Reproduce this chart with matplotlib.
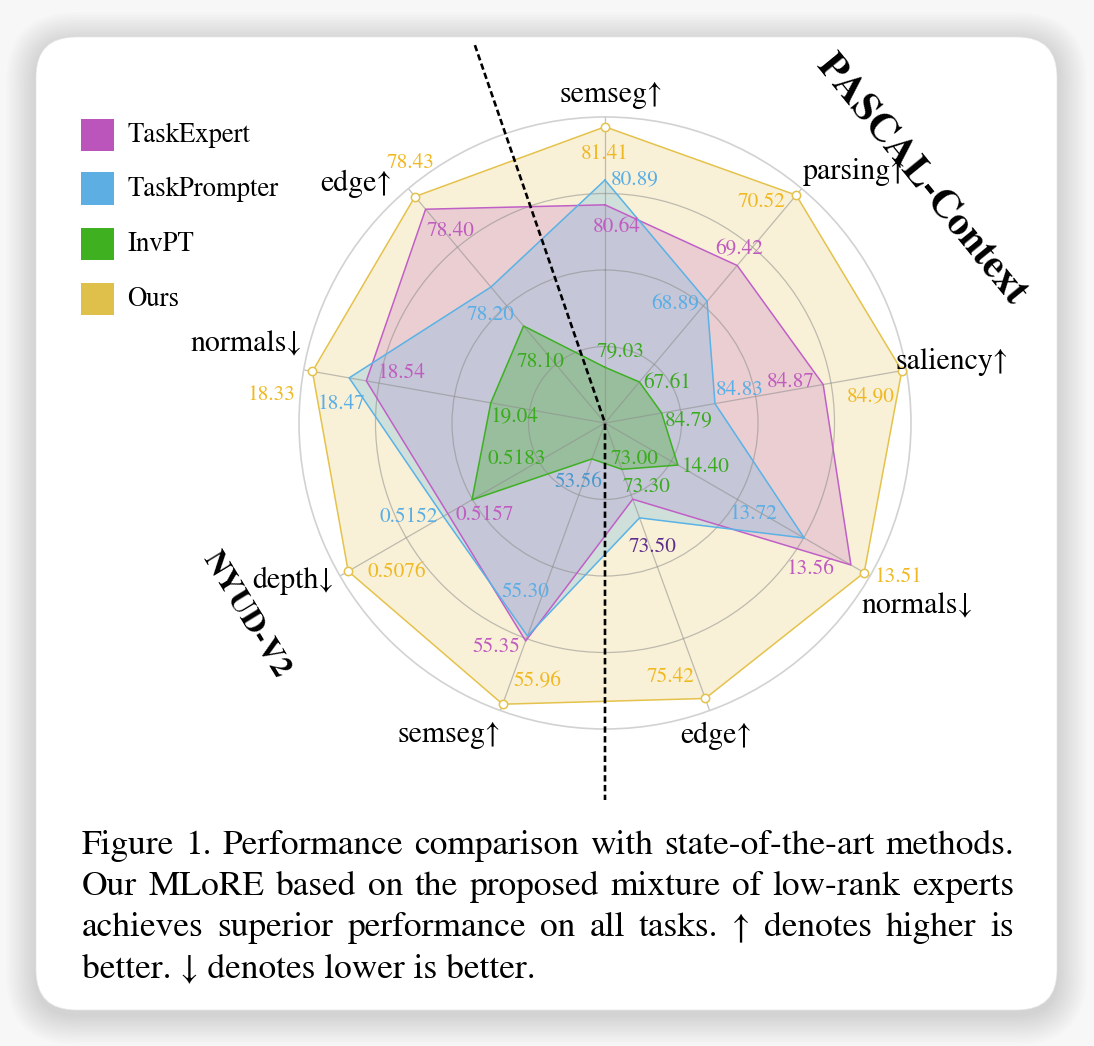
import numpy as np
import matplotlib
matplotlib.use('Agg')
import matplotlib.pyplot as plt
from matplotlib.patches import FancyBboxPatch, Rectangle

W, H = 1094, 1046
SERIF = ['STIXGeneral', 'Liberation Serif', 'DejaVu Serif']

# ---------------- data ----------------
tasks = ['semseg↑', 'parsing↑', 'saliency↑', 'normals↓', 'edge↑',
         'semseg↑', 'depth↓', 'normals↓', 'edge↑']
methods = ['TaskExpert', 'TaskPrompter', 'InvPT', 'Ours']

taskexpert_vals = ['80.64', '69.42', '84.87', '13.56', '73.50', '55.35', '0.5157', '18.54', '78.40']
taskprompter_vals = ['80.89', '68.89', '84.83', '13.72', '73.30', '55.30', '0.5152', '18.47', '78.20']
invpt_vals = ['79.03', '67.61', '84.79', '14.40', '73.00', '53.56', '0.5183', '19.04', '78.10']
ours_vals = ['81.41', '70.52', '84.90', '13.51', '75.42', '55.96', '0.5076', '18.33', '78.43']

# radial position of each vertex (fraction of outer ring)
taskexpert_r = [0.713, 0.672, 0.724, 0.928, 0.265, 0.758, 0.593, 0.792, 0.912]
taskprompter_r = [0.794, 0.519, 0.365, 0.752, 0.330, 0.741, 0.610, 0.849, 0.580]
invpt_r = [0.182, 0.175, 0.188, 0.275, 0.161, 0.125, 0.502, 0.379, 0.414]
ours_r = [0.968, 0.972, 0.985, 0.978, 0.958, 0.978, 0.969, 0.971, 0.966]

# ---------------- styles / layout ----------------
line_cols = {'TaskExpert': '#c060c6', 'TaskPrompter': '#5ab2e6',
             'InvPT': '#3db023', 'Ours': '#e4c24c'}
fill_alpha = {'TaskExpert': 0.24, 'TaskPrompter': 0.26, 'InvPT': 0.32, 'Ours': 0.22}
legend_cols = ['#bb55bb', '#5caee3', '#3fb01f', '#dfc04a']

GOLD_T, MAG_T, BLUE_T, GREEN_T, PURP_T, SBLUE_T = '#f0b822', '#c05cc0', '#5aaee6', '#3aab1f', '#5e2d8c', '#4a98cc'

# value label layout: (x px, y px, colour) per task, per series order Ours, TE, TP, InvPT
label_layout = [
    [(605, 154, GOLD_T), (617, 227, MAG_T), (635, 180, BLUE_T), (621, 352, GREEN_T)],
    [(762, 202, GOLD_T), (739, 250, MAG_T), (675, 305, BLUE_T), (667, 383, GREEN_T)],
    [(871, 397, GOLD_T), (791, 382, MAG_T), (740, 390, BLUE_T), (689, 421, GREEN_T)],
    [(899, 577, GOLD_T), (811, 569, MAG_T), (754, 514, BLUE_T), (706, 467, GREEN_T)],
    [(671, 677, GOLD_T), (653, 547, PURP_T), (647, 487, GREEN_T), (635, 459, GREEN_T)],
    [(537, 682, GOLD_T), (496, 647, MAG_T), (525, 592, BLUE_T), (578, 482, SBLUE_T)],
    [(397, 572, GOLD_T), (485, 515, MAG_T), (409, 517, BLUE_T), (517, 459, GREEN_T)],
    [(272, 395, GOLD_T), (402, 373, MAG_T), (342, 404, BLUE_T), (515, 417, GREEN_T)],
    [(411, 163, GOLD_T), (451, 231, MAG_T), (491, 315, BLUE_T), (541, 362, GREEN_T)],
]
task_label_pos = [(611, 95), (855, 172), (952, 362), (917, 607), (716, 736),
                  (449, 735), (293, 581), (246, 345), (356, 184)]

CX, CY, R = 605, 423, 306

# ---------------- figure ----------------
fig = plt.figure(figsize=(W / 100, H / 100), dpi=100, facecolor='#f7f7f7')
bg = fig.add_axes([0, 0, 1, 1])
bg.set_xlim(0, W)
bg.set_ylim(H, 0)
bg.axis('off')

# card shadow + card
for i in range(12):
    p = 2 + i * 2.5
    sh = FancyBboxPatch((36 - p, 37 - p + 5), 1021 + 2 * p, 973 + 2 * p,
                        boxstyle='round,pad=0,rounding_size=%f' % (40 + p),
                        facecolor='black', edgecolor='none', alpha=0.011, zorder=0)
    bg.add_patch(sh)
card = FancyBboxPatch((36, 37), 1021, 973, boxstyle='round,pad=0,rounding_size=40',
                      facecolor='white', edgecolor='#e6e6e6', lw=0.5, zorder=1)
bg.add_patch(card)

# legend
leg_y = [134.5, 188, 243.5, 298.5]
for name, col, y in zip(methods, legend_cols, leg_y):
    bg.add_patch(Rectangle((81, y - 16), 32.5, 32.5, facecolor=col, edgecolor='none', zorder=2))
    bg.text(127, y + 1, name, fontsize=19.3, family=SERIF, va='center', ha='left', zorder=3)

# polar axes
ax = fig.add_axes([(CX - R) / W, 1 - (CY + R) / H, 2 * R / W, 2 * R / H], projection='polar')
ax.set_facecolor('none')
ax.set_theta_offset(np.pi / 2)
ax.set_theta_direction(-1)
n = len(tasks)
theta = np.deg2rad(np.arange(n) * 360.0 / n)
ax.set_xticks(theta)
ax.set_xticklabels([])
ax.set_yticks([0.25, 0.5, 0.75])
ax.set_yticklabels([])
ax.set_ylim(0, 1)
ax.tick_params(length=0)
ax.xaxis.grid(True, color='#8c8c8c', lw=0.9, alpha=0.55)
ax.yaxis.grid(True, color='#8c8c8c', lw=0.9, alpha=0.55)
ax.spines['polar'].set_color('#d2d2d2')
ax.spines['polar'].set_linewidth(1.2)

series = [('Ours', ours_r), ('TaskExpert', taskexpert_r),
          ('TaskPrompter', taskprompter_r), ('InvPT', invpt_r)]
tc = np.append(theta, theta[0])
for z, (name, rv) in enumerate(series):
    rc = np.append(rv, rv[0])
    ax.fill(tc, rc, color=line_cols[name], alpha=fill_alpha[name], lw=0, zorder=1 + z * 0.01)
    ax.plot(tc, rc, color=line_cols[name], lw=1.1, zorder=3 + z * 0.01)
ax.plot(theta, ours_r, ls='none', marker='o', ms=6, mfc='white',
        mec=line_cols['Ours'], mew=1.1, zorder=5, clip_on=False)

# dashed separator between datasets
sep_theta = [np.deg2rad(-19), np.deg2rad(-19), np.pi, np.pi]
sep_r = [1.306, 0.0, 0.0, 1.232]
sep, = ax.plot(sep_theta, sep_r, color='black', lw=1.9, zorder=6, clip_on=False)
sep.set_dashes((2.4, 1.3))

# ---------------- texts ----------------
def T(x, y, s, **kw):
    kw.setdefault('family', SERIF)
    return fig.text(x, y, s, transform=bg.transData, **kw)

for (x, y), s in zip(task_label_pos, tasks):
    T(x, y, s, fontsize=21.5, ha='center', va='center')

all_vals = [ours_vals, taskexpert_vals, taskprompter_vals, invpt_vals]
for i in range(n):
    for j in range(4):
        x, y, c = label_layout[i][j]
        T(x, y, all_vals[j][i], fontsize=15.3, color=c, ha='center', va='center')

T(920, 180, 'PASCAL-Context', fontsize=29, fontweight='bold', rotation=-50.8,
  ha='center', va='center', rotation_mode='anchor')
T(247, 614, 'NYUD-V2', fontsize=23, fontweight='bold', rotation=-58.6,
  ha='center', va='center', rotation_mode='anchor')

# caption (justified)
cap_lines = ["Figure 1. Performance comparison with state-of-the-art methods.",
             "Our MLoRE based on the proposed mixture of low-rank experts",
             "achieves superior performance on all tasks. ↑ denotes higher is",
             "better. ↓ denotes lower is better."]
cap_base = [854, 895, 936, 977]
CAP_FS = 25.5
x_left, x_right = 82, 1014
renderer = fig.canvas.get_renderer()
for k, (line, yb) in enumerate(zip(cap_lines, cap_base)):
    words = line.split(' ')
    if k < len(cap_lines) - 1:
        txts = [T(0, yb, w, fontsize=CAP_FS, ha='left', va='baseline') for w in words]
        widths = [t.get_window_extent(renderer=renderer).width for t in txts]
        gap = (x_right - x_left - sum(widths)) / (len(words) - 1)
        x = x_left
        for t, w in zip(txts, widths):
            t.set_x(x)
            x += w + gap
    else:
        T(x_left, yb, line, fontsize=CAP_FS, ha='left', va='baseline')

fig.savefig('out.png', dpi=100, facecolor=fig.get_facecolor())
